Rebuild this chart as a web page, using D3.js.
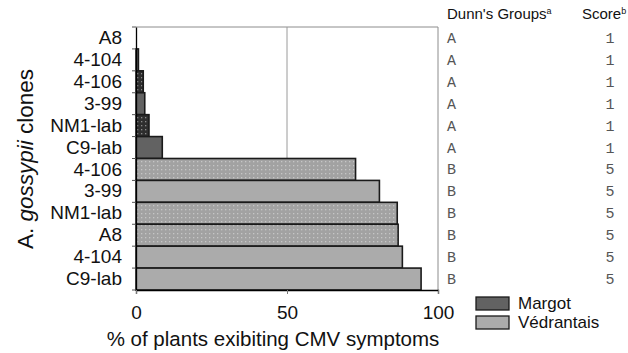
<!DOCTYPE html>
<html>
<head>
<meta charset="utf-8">
<script src="https://cdn.jsdelivr.net/npm/d3@7"></script>
<style>
  body { margin: 0; background: #fff; }
  svg { display: block; font-family: "Liberation Sans", Arial, sans-serif; }
</style>
</head>
<body>
<div id="chart"></div>
<script>
// clones, top to bottom
const clones = ["A8", "4-104", "4-106", "3-99", "NM1-lab", "C9-lab",
                "4-106", "3-99", "NM1-lab", "A8", "4-104", "C9-lab"];
const cultivars = ["Margot", "Margot", "Margot", "Margot", "Margot", "Margot",
                   "Védrantais", "Védrantais", "Védrantais", "Védrantais", "Védrantais", "Védrantais"];
const percents = [0, 0.8, 2.4, 2.9, 4.3, 8.7, 72.7, 80.6, 86.5, 86.8, 88.2, 94.4];
const dotted = [false, false, true, false, true, false, true, false, true, true, false, false];
const dunnGroups = ["A", "A", "A", "A", "A", "A", "B", "B", "B", "B", "B", "B"];
const scores = [1, 1, 1, 1, 1, 1, 5, 5, 5, 5, 5, 5];
const xTicks = [0, 50, 100];
const legendItems = ["Margot", "Védrantais"];

const W = 628, H = 353;
const m = {left: 136, right: 438, top: 27, bottom: 290};

const svg = d3.select("#chart").append("svg")
    .attr("width", W).attr("height", H);

// fill patterns
const defs = svg.append("defs");
function dots(id, bg, dot) {
  const p = defs.append("pattern")
      .attr("id", id)
      .attr("patternUnits", "userSpaceOnUse")
      .attr("width", 4).attr("height", 4);
  p.append("rect").attr("width", 4).attr("height", 4).attr("fill", bg);
  p.append("rect").attr("x", 1).attr("y", 1).attr("width", 1.3).attr("height", 1.3).attr("fill", dot);
}
dots("dotDark", "#2e2e2e", "#8a8a8a");
dots("dotLight", "#a2a2a2", "#c6c6c6");

const fillFor = i => {
  if (cultivars[i] === "Margot") return dotted[i] ? "url(#dotDark)" : "#626262";
  return dotted[i] ? "url(#dotLight)" : "#ababab";
};

const x = d3.scaleLinear().domain([0, 100]).range([m.left, m.right]);
const y = d3.scaleBand().domain(d3.range(clones.length)).range([m.top, m.bottom]).padding(0);

// frame + gridline
svg.append("path")
    .attr("d", `M${m.left},${m.top}H${m.right}V${m.bottom}`)
    .attr("fill", "none").attr("stroke", "#8c8c8c").attr("stroke-width", 1);
svg.append("line")
    .attr("x1", x(50)).attr("x2", x(50))
    .attr("y1", m.top).attr("y2", m.bottom)
    .attr("stroke", "#9a9a9a").attr("stroke-width", 1);

// bars
svg.append("g").selectAll("rect")
  .data(d3.range(clones.length))
  .join("rect")
    .attr("x", x(0))
    .attr("y", i => y(i))
    .attr("width", i => x(percents[i]) - x(0))
    .attr("height", y.bandwidth())
    .attr("fill", fillFor)
    .attr("stroke", "#1a1a1a")
    .attr("stroke-width", 1.6);

// y axis
const yAxis = svg.append("g")
    .attr("transform", `translate(${m.left},0)`)
    .call(d3.axisLeft(y).tickSize(0).tickFormat(i => clones[i]).tickPadding(14));
yAxis.select(".domain").attr("stroke", "#000").attr("stroke-width", 1.3);
yAxis.selectAll("text").attr("font-size", 19).attr("fill", "#111")
    .attr("font-family", "Liberation Sans, Arial, sans-serif");
// boundary ticks
svg.append("g").selectAll("line")
  .data(d3.range(clones.length + 1))
  .join("line")
    .attr("x1", m.left - 4).attr("x2", m.left)
    .attr("y1", i => m.top + i * y.step()).attr("y2", i => m.top + i * y.step())
    .attr("stroke", "#555");

// x axis
const xAxis = svg.append("g")
    .attr("transform", `translate(0,${m.bottom})`)
    .call(d3.axisBottom(x).tickValues(xTicks).tickSize(4).tickPadding(12));
xAxis.select(".domain").attr("stroke", "#000").attr("stroke-width", 1.3);
xAxis.selectAll("line").attr("stroke", "#777");
xAxis.selectAll("text").attr("font-size", 19).attr("fill", "#111")
    .attr("font-family", "Liberation Sans, Arial, sans-serif");

svg.append("text")
    .attr("x", 273).attr("y", 346)
    .attr("text-anchor", "middle")
    .attr("font-size", 20.5).attr("fill", "#111")
    .text("% of plants exibiting CMV symptoms");

const yt = svg.append("text")
    .attr("transform", "translate(33,159) rotate(-90)")
    .attr("text-anchor", "middle")
    .attr("font-size", 22.5).attr("fill", "#111");
yt.append("tspan").text("A. ");
yt.append("tspan").attr("font-style", "italic").text("gossypii");
yt.append("tspan").text(" clones");

// right columns
const h1 = svg.append("text").attr("x", 447).attr("y", 19).attr("font-size", 15).attr("fill", "#111");
h1.append("tspan").text("Dunn's Groups");
h1.append("tspan").attr("font-size", 9).attr("dy", -5).text("a");
const h2 = svg.append("text").attr("x", 582).attr("y", 19).attr("font-size", 15).attr("fill", "#111");
h2.append("tspan").text("Score");
h2.append("tspan").attr("font-size", 9).attr("dy", -5).text("b");

svg.append("g").selectAll("text")
  .data(d3.range(clones.length))
  .join("text")
    .attr("x", 447)
    .attr("y", i => y(i) + y.bandwidth() / 2 + 5)
    .style("font-family", "'Liberation Mono', 'Courier New', monospace")
    .attr("font-size", 15).attr("fill", "#555")
    .text(i => dunnGroups[i]);

svg.append("g").selectAll("text")
  .data(d3.range(clones.length))
  .join("text")
    .attr("x", 610)
    .attr("y", i => y(i) + y.bandwidth() / 2 + 5)
    .attr("text-anchor", "middle")
    .style("font-family", "'Liberation Mono', 'Courier New', monospace")
    .attr("font-size", 15).attr("fill", "#555")
    .text(i => scores[i]);

// legend
const legend = svg.append("g").selectAll("g")
  .data(legendItems)
  .join("g")
    .attr("transform", (d, i) => `translate(476,${297 + i * 19})`);
legend.append("rect")
    .attr("width", 33).attr("height", 13)
    .attr("fill", (d, i) => i === 0 ? "#626262" : "#ababab")
    .attr("stroke", "#1a1a1a").attr("stroke-width", 1.3);
legend.append("text")
    .attr("x", 42).attr("y", 12)
    .attr("font-size", 17).attr("fill", "#111")
    .text(d => d);
</script>
</body>
</html>
